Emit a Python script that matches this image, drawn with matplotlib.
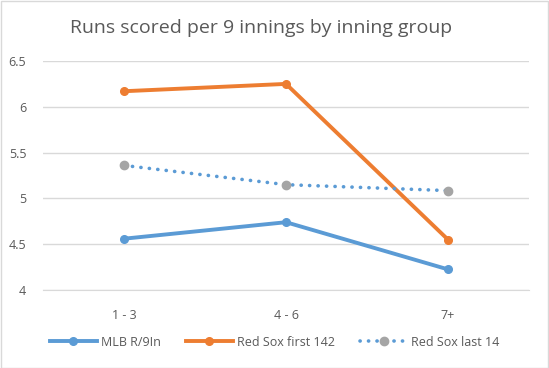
import matplotlib
matplotlib.use("Agg")
import matplotlib.pyplot as plt
from matplotlib.patches import Rectangle
from matplotlib.lines import Line2D

# data
groups = ["1 - 3", "4 - 6", "7+"]
mlb = [4.56, 4.74, 4.225]
sox_first = [6.17, 6.25, 4.55]
sox_last = [5.36, 5.15, 5.085]

blue = "#5B9BD5"
orange = "#ED7D31"
grey = "#A5A5A5"
txt = "#595959"
dots = (0, (0.05, 2.3))

plt.rcParams["font.family"] = ["Open Sans", "DejaVu Sans"]

fig = plt.figure(figsize=(5.49, 3.68), dpi=100)
fig.patches.append(Rectangle((0.001, 0.001), 0.997, 0.996, transform=fig.transFigure,
                             fill=False, edgecolor="#D9D9D9", linewidth=1))
ax = fig.add_axes([43 / 549, 1 - 290 / 368, 486 / 549, 229 / 368])

x = range(len(groups))
ax.plot(x, mlb, color=blue, lw=2.8, marker="o", ms=5.5, solid_capstyle="round")
ax.plot(x, sox_first, color=orange, lw=2.8, marker="o", ms=5.5, solid_capstyle="round")
ax.plot(x, sox_last, color=blue, lw=2.6, ls=dots, dash_capstyle="round",
        marker="o", ms=6, mfc=grey, mec=grey)

ax.set_xlim(-0.5, 2.5)
ax.set_ylim(4, 6.5)
ax.set_yticks([4, 4.5, 5, 5.5, 6, 6.5])
ax.set_yticklabels(["4", "4.5", "5", "5.5", "6", "6.5"])
ax.set_xticks(list(x))
ax.set_xticklabels(groups)
ax.grid(axis="y", color="#D9D9D9", lw=1)
ax.set_axisbelow(True)
for s in ["left", "right", "top"]:
    ax.spines[s].set_visible(False)
ax.spines["bottom"].set_color("#D9D9D9")
ax.tick_params(length=0, colors=txt, labelsize=9)
ax.tick_params(axis="x", pad=14)
ax.tick_params(axis="y", pad=12)

fig.text(261 / 549, 1 - 28 / 368, "Runs scored per 9 innings by inning group",
         ha="center", va="center", fontsize=14, color=txt)

handles = [
    Line2D([], [], color=blue, lw=2.8, marker="o", ms=5.5),
    Line2D([], [], color=orange, lw=2.8, marker="o", ms=5.5),
    Line2D([], [], color=blue, lw=2.6, ls=dots, dash_capstyle="round",
           marker="o", ms=6, mfc=grey, mec=grey),
]
fig.legend(handles, ["MLB R/9In", "Red Sox first 142", "Red Sox last 14"],
           loc="center", bbox_to_anchor=(0.5, 1 - 342 / 368), ncol=3, frameon=False,
           fontsize=9, labelcolor=txt, handlelength=3.8, columnspacing=2.0,
           handletextpad=0.3)

fig.savefig("out.png", dpi=100)
